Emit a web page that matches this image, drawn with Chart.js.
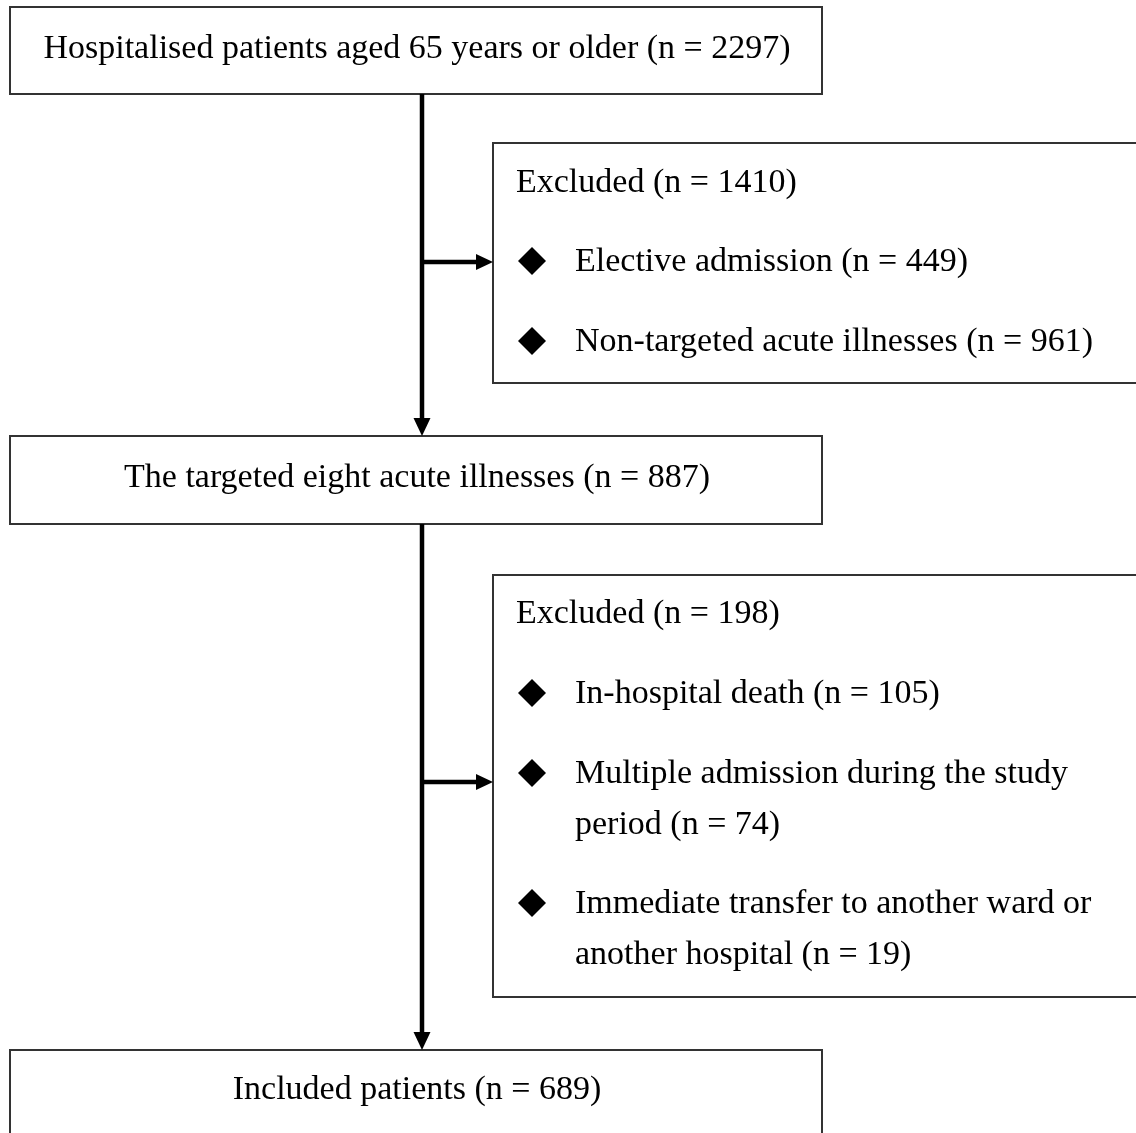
<!DOCTYPE html>
<html>
<head>
<meta charset="utf-8">
<script src="https://cdn.jsdelivr.net/npm/chart.js@4.4.1/dist/chart.umd.min.js"></script>
<style>
  html, body { margin: 0; padding: 0; background: #fff; }
  #wrap { width: 1136px; height: 1133px; position: relative; }
</style>
</head>
<body>
<div id="wrap"><canvas id="flow"></canvas></div>
<script>
// Этапы отбора и их численность
const stageLabels = ['Hospitalised patients aged 65 years or older', 'The targeted eight acute illnesses', 'Included patients'];
const stageCounts = [2297, 887, 689];

// Исключённые пациенты
const excludedTotals = [1410, 198];
const reasons1 = ['Elective admission', 'Non-targeted acute illnesses'];
const reasonCounts1 = [449, 961];
const reasons2 = ['In-hospital death', 'Multiple admission during the study period', 'Immediate transfer to another ward or another hospital'];
const reasonCounts2 = [105, 74, 19];

const FONT = '34px "Liberation Serif", "Times New Roman", serif';

// Раскладка (в единицах осей, совпадающих с пикселями)
const mainBoxes = [
    { x0: 10, x1: 822, y0: 7, y1: 94, ty: 49 },
    { x0: 10, x1: 822, y0: 436, y1: 524, ty: 478 },
    { x0: 10, x1: 822, y0: 1050, y1: 1160, ty: 1090 }
];
const sideBoxes = [
    { x0: 493, x1: 1150, y0: 143, y1: 383, ty: 183, itemY: [[262], [342]], arrowY: 262 },
    { x0: 493, x1: 1150, y0: 575, y1: 997, ty: 614, itemY: [[694], [774, 825], [904, 955]], arrowY: 782 }
];
const spineX = 422;

function nLabel(n) { return '(n = ' + n + ')'; }

// Разбиваем текст на строки по ширине
function wrapText(ctx, text, maxW) {
    const words = text.split(' ');
    const lines = [];
    let cur = '';
    for (let i = 0; i < words.length; i++) {
        const test = cur ? cur + ' ' + words[i] : words[i];
        if (ctx.measureText(test).width > maxW && cur) {
            lines.push(cur);
            cur = words[i];
        } else {
            cur = test;
        }
    }
    if (cur) lines.push(cur);
    return lines;
}

const reasonSets = [
    { names: reasons1, counts: reasonCounts1 },
    { names: reasons2, counts: reasonCounts2 }
];

// Точки-ромбы для пунктов списка
const diamondPoints = [];
sideBoxes.forEach(b => b.itemY.forEach(ys => diamondPoints.push({ x: 532, y: ys[0] - 1 })));

const flowPlugin = {
    id: 'flow',
    afterDatasetsDraw(chart) {
        const ctx = chart.ctx;
        const xs = chart.scales.x, ys = chart.scales.y;
        const px = v => xs.getPixelForValue(v);
        const py = v => ys.getPixelForValue(v);

        ctx.save();
        ctx.font = FONT;
        ctx.fillStyle = '#000';
        ctx.textBaseline = 'middle';

        // Основные блоки
        ctx.strokeStyle = '#333';
        ctx.lineWidth = 2;
        mainBoxes.forEach((b, i) => {
            ctx.strokeRect(px(b.x0), py(b.y0), px(b.x1) - px(b.x0), py(b.y1) - py(b.y0));
            ctx.textAlign = 'center';
            ctx.fillText(stageLabels[i] + ' ' + nLabel(stageCounts[i]), px((b.x0 + b.x1) / 2 + 1), py(b.ty));
        });

        // Блоки исключений
        sideBoxes.forEach((b, i) => {
            ctx.strokeStyle = '#333';
            ctx.lineWidth = 2;
            ctx.strokeRect(px(b.x0), py(b.y0), px(b.x1) - px(b.x0), py(b.y1) - py(b.y0));
            ctx.textAlign = 'left';
            ctx.fillText('Excluded ' + nLabel(excludedTotals[i]), px(516), py(b.ty));
            const set = reasonSets[i];
            set.names.forEach((name, j) => {
                const lines = wrapText(ctx, name + ' ' + nLabel(set.counts[j]), 535);
                lines.forEach((ln, k) => {
                    ctx.fillText(ln, px(575), py(b.itemY[j][k]));
                });
            });
        });

        // Стрелки
        ctx.strokeStyle = '#000';
        ctx.lineWidth = 4.5;
        function vArrow(yFrom, yTo) {
            ctx.beginPath();
            ctx.moveTo(px(spineX), py(yFrom));
            ctx.lineTo(px(spineX), py(yTo - 16));
            ctx.stroke();
            ctx.beginPath();
            ctx.moveTo(px(spineX), py(yTo));
            ctx.lineTo(px(spineX - 8.5), py(yTo - 18));
            ctx.lineTo(px(spineX + 8.5), py(yTo - 18));
            ctx.closePath();
            ctx.fill();
        }
        function hArrow(y, xTo) {
            ctx.beginPath();
            ctx.moveTo(px(spineX), py(y));
            ctx.lineTo(px(xTo - 14), py(y));
            ctx.stroke();
            ctx.beginPath();
            ctx.moveTo(px(xTo), py(y));
            ctx.lineTo(px(xTo - 17), py(y - 8));
            ctx.lineTo(px(xTo - 17), py(y + 8));
            ctx.closePath();
            ctx.fill();
        }
        vArrow(mainBoxes[0].y1, mainBoxes[1].y0);
        vArrow(mainBoxes[1].y1, mainBoxes[2].y0);
        sideBoxes.forEach(b => hArrow(b.arrowY, b.x0));
        ctx.restore();
    }
};

new Chart(document.getElementById('flow'), {
    type: 'scatter',
    data: {
        datasets: [{
            data: diamondPoints,
            pointStyle: 'rectRot',
            radius: 14,
            backgroundColor: '#000',
            borderColor: '#000',
            borderWidth: 0
        }]
    },
    options: {
        responsive: true,
        maintainAspectRatio: false,
        animation: false,
        events: [],
        layout: { padding: 0, autoPadding: false },
        plugins: { legend: { display: false }, tooltip: { enabled: false } },
        scales: {
            x: { type: 'linear', min: 0, max: 1136, display: false },
            y: { type: 'linear', min: 0, max: 1133, reverse: true, display: false }
        }
    },
    plugins: [flowPlugin]
});
</script>
</body>
</html>
